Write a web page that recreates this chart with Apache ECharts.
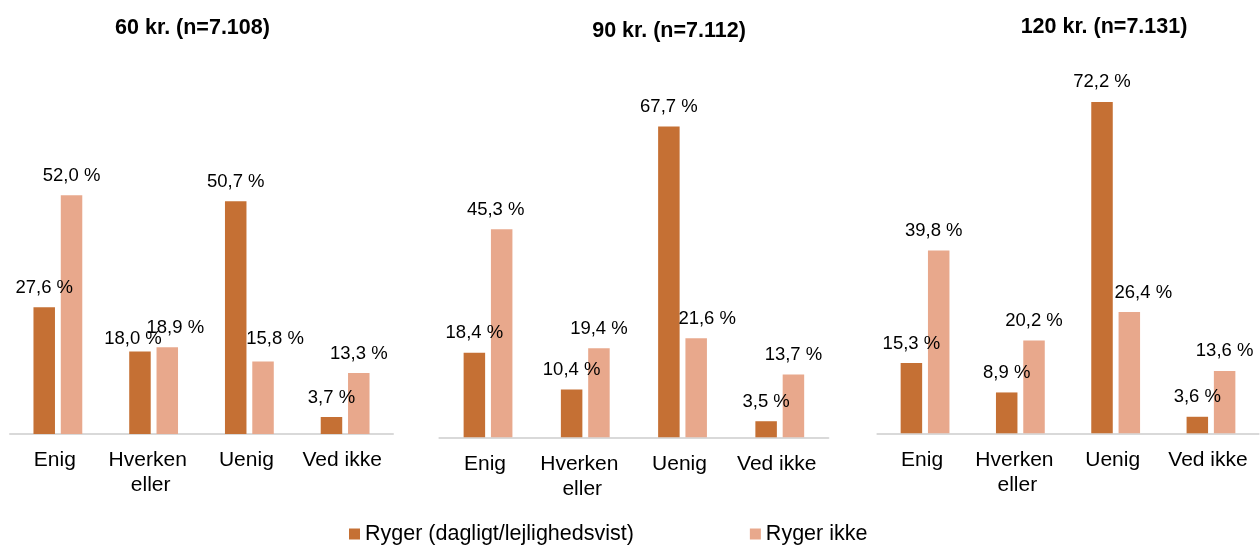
<!DOCTYPE html>
<html>
<head>
<meta charset="utf-8">
<script src="https://cdn.jsdelivr.net/npm/echarts@6/dist/echarts.min.js"></script>
<style>
html,body{margin:0;padding:0;background:#fff;}
#chart{width:1260px;height:545px;}
</style>
</head>
<body>
<div id="chart"></div>
<script>
const categories = ['Enig', 'Hverken eller', 'Uenig', 'Ved ikke'];
const seriesNames = ['Ryger (dagligt/lejlighedsvist)', 'Ryger ikke'];
const panelTitles = ['60 kr. (n=7.108)', '90 kr. (n=7.112)', '120 kr. (n=7.131)'];
const smokers60 = [27.6, 18.0, 50.7, 3.7];
const nonSmokers60 = [52.0, 18.9, 15.8, 13.3];
const smokers90 = [18.4, 10.4, 67.7, 3.5];
const nonSmokers90 = [45.3, 19.4, 21.6, 13.7];
const smokers120 = [15.3, 8.9, 72.2, 3.6];
const nonSmokers120 = [39.8, 20.2, 26.4, 13.6];

const panelData = [[smokers60, nonSmokers60], [smokers90, nonSmokers90], [smokers120, nonSmokers120]];
const colors = ['#C57034', '#E8A88C'];
const FONT = "'Liberation Sans', Arial, sans-serif";
const PX_PER_UNIT = 4.59;
const Y_MAX = 80;

const layout = [
  { left: 10, width: 383, axisY: 434, titleX: 192.5, titleY: 28.3 },
  { left: 439.4, width: 389, axisY: 437.3, titleX: 669, titleY: 30.7 },
  { left: 877.4, width: 389, axisY: 433.3, titleX: 1104, titleY: 26.7 }
];
// manual label nudges (panel-series-index): [dx, dy]
const labelNudges = {
  '0-0-1': [-7, 7], '0-1-1': [8, 0], '0-1-2': [12, -3],
  '1-1-2': [11, 0], '1-1-0': [-6, 0],
  '2-1-2': [14, 0], '2-1-0': [-5, 0]
};

const fmt = v => v.toFixed(1).replace('.', ',') + ' %';

const grids = [], xAxes = [], yAxes = [], series = [], titles = [];
layout.forEach((L, p) => {
  const h = Y_MAX * PX_PER_UNIT;
  grids.push({ left: L.left, width: L.width, top: L.axisY - h, height: h, containLabel: false });
  xAxes.push({
    type: 'category', gridIndex: p, data: categories,
    axisLine: { show: true, lineStyle: { color: '#D9D9D9', width: 2 } },
    axisTick: { show: false },
    axisLabel: {
      interval: 0, margin: 14, color: '#000', fontSize: 21, fontFamily: FONT,
      lineHeight: 25, width: 88, overflow: 'break', padding: [0, 6, 0, 0]
    }
  });
  yAxes.push({ type: 'value', gridIndex: p, min: 0, max: Y_MAX, show: false, splitLine: { show: false } });
  titles.push({
    text: panelTitles[p], left: L.titleX, top: L.titleY - 10.75, padding: 0,
    textAlign: 'center',
    textStyle: { fontSize: 21.5, fontWeight: 'bold', color: '#000', fontFamily: FONT, lineHeight: 21.5 }
  });
  panelData[p].forEach((vals, s) => {
    series.push({
      type: 'bar', name: seriesNames[s], xAxisIndex: p, yAxisIndex: p,
      barWidth: 21.5, barGap: '27%',
      itemStyle: { color: colors[s] },
      label: {
        show: true, position: 'top', distance: 10, color: '#000',
        fontSize: 18.5, fontFamily: FONT, formatter: d => fmt(d.value)
      },
      data: vals.map((v, i) => {
        const n = labelNudges[p + '-' + s + '-' + i];
        return n ? { value: v, label: { offset: n } } : v;
      })
    });
  });
});

const chart = echarts.init(document.getElementById('chart'), null, { renderer: 'canvas' });
chart.setOption({
  animation: false,
  backgroundColor: '#fff',
  title: titles,
  legend: {
    data: seriesNames, left: 349, top: 523, padding: 0,
    icon: 'rect', itemWidth: 11, itemHeight: 11, itemGap: 116,
    textStyle: { fontSize: 21.5, color: '#000', fontFamily: FONT }
  },
  grid: grids,
  xAxis: xAxes,
  yAxis: yAxes,
  series: series
});
</script>
</body>
</html>
